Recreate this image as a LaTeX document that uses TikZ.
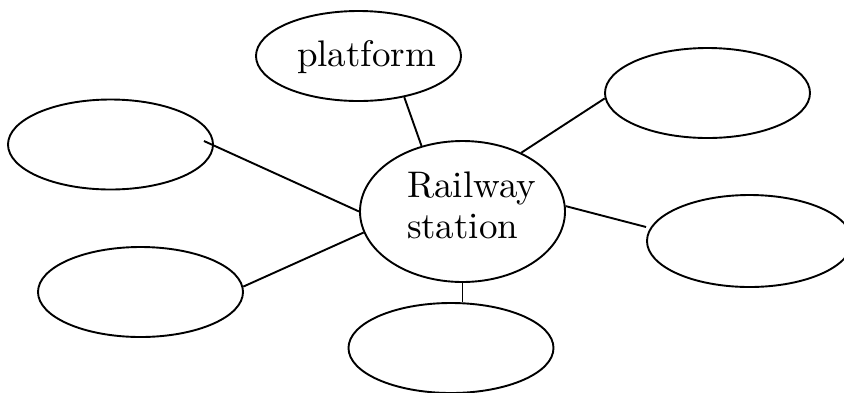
\documentclass[tikz,border=0pt]{standalone}
\usepackage{fontspec}
\setmainfont{lmroman10-regular.otf}
\usepackage{tikz}
\usetikzlibrary{shapes.geometric, calc}
\tikzset{
    bubble/.style={ellipse, draw=black, line width=1.9pt, minimum width=205pt, minimum height=#1, inner sep=0pt},
    bubble/.default=90pt,
    bubbletext/.style={font=\fontsize{37}{41}\selectfont, inner sep=0pt, align=left},
    spoke/.style={draw=black, line width=1.9pt}
}

\begin{document}
\begin{tikzpicture}[x=1pt, y=-1pt]

\useasboundingbox (0,0) rectangle (844,392);

% hub and the six bubbles round it
\node[bubble=141pt] (hub) at (462.5,211.5) {};
\node[bubble] (platform) at (358.5,56) {};
\node[bubble] (lefttop) at (110.5,144.5) {};
\node[bubble] (leftbot) at (140.5,292) {};
\node[bubble] (righttop) at (707.5,93) {};
\node[bubble=92pt] (rightmid) at (749.5,241) {};
\node[bubble] (bottom) at (451,348) {};

\node[bubbletext] (hubtext) at (471.5,205) {Railway\\station};
\node[bubbletext] (platformtext) at (366.5,57) {platform};

% spokes
\draw[spoke] (platform.-42) -- (hub.122);
\draw[spoke] ($(lefttop.east)+(-10,-3.5)$) -- (hub.west);
\draw[spoke] (leftbot.3) -- (hub.192);
\draw[spoke] (righttop.183) -- (hub.45);
\draw[spoke] (hub.3) -- ($(rightmid.west)+(0,-14)$);
\draw[spoke] (hub.south) -- (hub.south |- bottom.north);

\end{tikzpicture}
\end{document}
